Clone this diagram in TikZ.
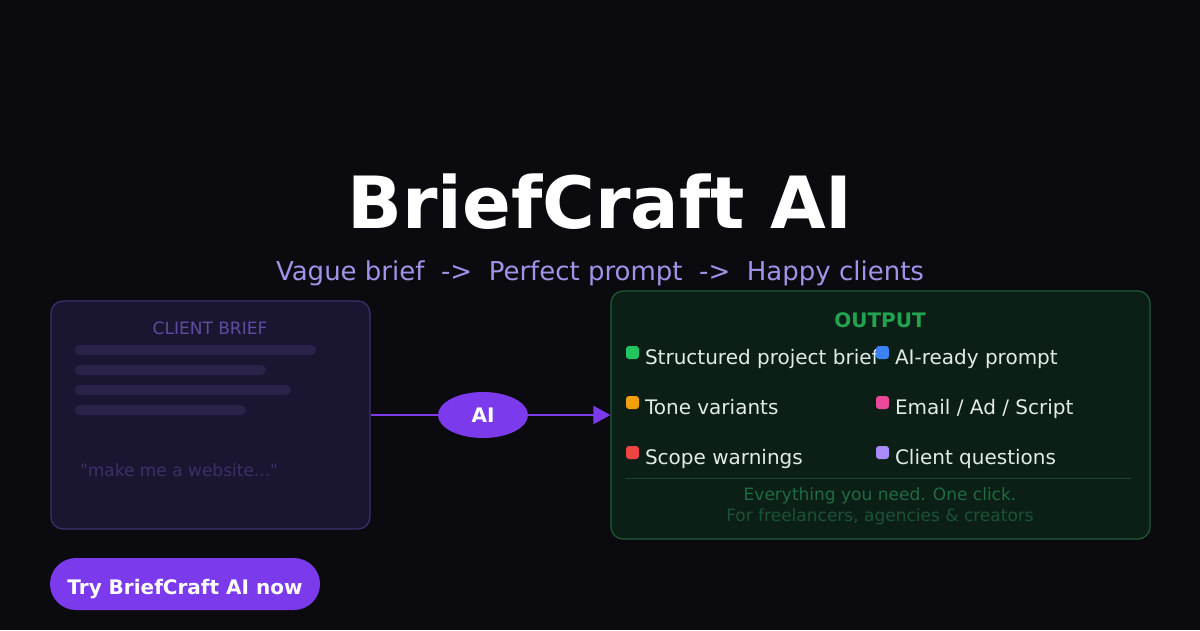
\documentclass[tikz,border=0pt]{standalone}
\usepackage{fontspec}
\setmainfont{DejaVu Sans}
\newfontfamily\rawfont{DejaVu Sans}[Ligatures=TeXOff]
\usetikzlibrary{arrows.meta,shapes.geometric}
\definecolor{bg}{HTML}{0A0A0F}
\definecolor{leftfill}{HTML}{1A1530}
\definecolor{leftdraw}{HTML}{3D3170}
\definecolor{barcol}{HTML}{2A2248}
\definecolor{cbtext}{HTML}{5E4D9E}
\definecolor{quotecol}{HTML}{3C3166}
\definecolor{purp}{HTML}{7C3AED}
\definecolor{subcol}{HTML}{A093E8}
\definecolor{rightfill}{HTML}{0C1F16}
\definecolor{rightdraw}{HTML}{1E5C36}
\definecolor{outcol}{HTML}{22A34F}
\definecolor{itemcol}{HTML}{E2EBE4}
\definecolor{sepcol}{HTML}{1D4630}
\definecolor{foota}{HTML}{1F6B42}
\definecolor{footb}{HTML}{1A5236}
\definecolor{cgreen}{HTML}{22C55E}
\definecolor{cblue}{HTML}{3B82F6}
\definecolor{corange}{HTML}{F59E0B}
\definecolor{cpink}{HTML}{EC4899}
\definecolor{cred}{HTML}{EF4444}
\definecolor{cviolet}{HTML}{A78BFA}
\tikzset{
  txt/.style={inner sep=0pt, outer sep=0pt, anchor=base},
  itemtext/.style={txt, anchor=base west, text=itemcol, font=\fontsize{20}{22}\selectfont},
  dot/.style={fill=#1, rounded corners=3pt},
  bar/.style={fill=barcol, rounded corners=5pt},
  flow/.style={draw=purp, line width=2.5pt},
}
\begin{document}
\begin{tikzpicture}[x=1pt,y=-1pt]
\fill[bg] (0,0) rectangle (1200,630);
\useasboundingbox (0,0) rectangle (1200,630);

% title
\node[txt, text=white, font=\fontsize{72}{80}\selectfont\bfseries] (title) at (600,228) {BriefCraft AI};
\node[txt, text=subcol, font=\fontsize{26}{30}\selectfont] (sub) at (600,280) {Vague brief\ \ ->\ \ Perfect prompt\ \ ->\ \ Happy clients};

% left box
\node[draw=leftdraw, fill=leftfill, line width=1.2pt, rounded corners=12pt, minimum width=319pt, minimum height=228pt, inner sep=0pt] (left) at (210.5,415) {};
\node[txt, text=cbtext, font=\fontsize{17}{20}\selectfont] (cb) at (210,334) {CLIENT BRIEF};
\fill[bar] (75,345) rectangle (316,355);
\fill[bar] (75,365) rectangle (266,375);
\fill[bar] (75,385) rectangle (291,395);
\fill[bar] (75,405) rectangle (246,415);
\node[txt, anchor=base west, text=quotecol, font=\rawfont\fontsize{17}{20}\selectfont] (quote) at (80,476) {"make me a website..."};

% right box
\node[draw=rightdraw, fill=rightfill, line width=1.2pt, rounded corners=12pt, minimum width=539pt, minimum height=248pt, inner sep=0pt] (right) at (880.5,415) {};
\node[txt, text=outcol, font=\fontsize{20}{22}\selectfont\bfseries] (out) at (880,327) {OUTPUT};

\node[itemtext] (i1) at (645,364) {Structured project brief};
\fill[dot=cgreen] (626,346) rectangle (639,359);
\node[itemtext] (i2) at (895,364) {AI-ready prompt};
\fill[dot=cblue] (876,346) rectangle (889,359);
\node[itemtext] (i3) at (645,414) {Tone variants};
\fill[dot=corange] (626,396) rectangle (639,409);
\node[itemtext] (i4) at (895,414) {Email / Ad / Script};
\fill[dot=cpink] (876,396) rectangle (889,409);
\node[itemtext] (i5) at (645,464) {Scope warnings};
\fill[dot=cred] (626,446) rectangle (639,459);
\node[itemtext] (i6) at (895,464) {Client questions};
\fill[dot=cviolet] (876,446) rectangle (889,459);

\draw[sepcol, line width=0.8pt] (625,478.5) -- (1131,478.5);
\node[txt, text=foota, font=\fontsize{17}{20}\selectfont] (f1) at (880,500) {Everything you need. One click.};
\node[txt, text=footb, font=\fontsize{17}{20}\selectfont] (f2) at (880,521) {For freelancers, agencies \& creators};

% AI ellipse and arrows
\node[ellipse, fill=purp, minimum width=90pt, minimum height=46pt, inner sep=0pt, text=white, font=\fontsize{20}{22}\selectfont\bfseries] (ai) at (483,415) {AI};
\draw[flow] (left.east) -- (ai.west);
\draw[flow, -{Triangle[length=17pt,width=18pt]}] (ai.east) -- (right.west);

% button
\node[fill=purp, rounded corners=26pt, minimum width=270pt, minimum height=52pt, inner sep=0pt] (btn) at (185,584) {};
\node[txt, text=white, font=\fontsize{20}{22}\selectfont\bfseries] (btntext) at (185,594) {Try BriefCraft AI now};
\end{tikzpicture}
\end{document}
